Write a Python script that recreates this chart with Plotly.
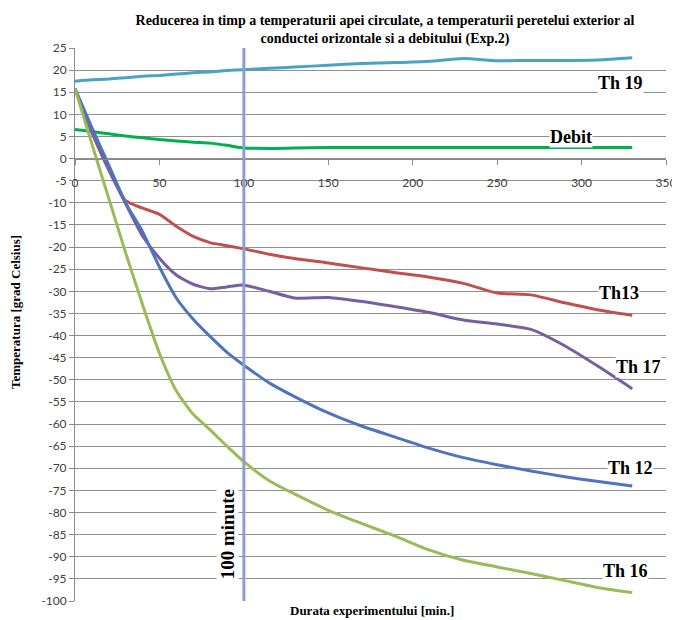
import plotly.graph_objects as go

# ---- data ----
time_min = [0, 10, 20, 30, 40, 50, 60, 70, 80, 90, 100, 115, 130, 150, 170, 190, 210, 230, 250, 270, 290, 310, 330]

th19 = [17.5, 17.8, 18.0, 18.3, 18.6, 18.8, 19.1, 19.4, 19.6, 19.9, 20.1, 20.4, 20.7, 21.1, 21.5, 21.7, 22.0, 22.6, 22.1, 22.2, 22.2, 22.3, 22.8]
debit = [6.6, 6.1, 5.6, 5.1, 4.7, 4.3, 4.0, 3.7, 3.5, 3.0, 2.4, 2.3, 2.4, 2.5, 2.5, 2.5, 2.5, 2.5, 2.5, 2.5, 2.5, 2.5, 2.5]
th13 = [15.8, 6.0, -2.5, -9.5, -11.2, -12.6, -15.3, -17.6, -19.0, -19.7, -20.4, -21.6, -22.6, -23.6, -24.7, -25.8, -26.8, -28.2, -30.4, -30.8, -32.6, -34.2, -35.4]
th17 = [15.8, 6.0, -2.5, -10.2, -17.5, -22.5, -26.3, -28.4, -29.4, -29.0, -28.6, -30.0, -31.5, -31.4, -32.3, -33.5, -34.8, -36.5, -37.4, -38.6, -42.3, -47.0, -52.0]
th12 = [15.8, 7.0, -1.5, -10.0, -16.5, -24.5, -31.5, -36.3, -40.2, -43.8, -46.7, -50.7, -53.8, -57.5, -60.5, -63.0, -65.5, -67.6, -69.2, -70.6, -71.9, -73.0, -74.0]
th16 = [15.8, 3.3, -9.0, -21.3, -33.0, -44.0, -52.5, -57.8, -61.3, -65.0, -68.5, -72.8, -75.8, -79.5, -82.5, -85.4, -88.5, -90.8, -92.3, -93.8, -95.4, -97.0, -98.1]

series_names = ["Th 19", "Debit", "Th13", "Th 17", "Th 12", "Th 16"]
series_values = [th19, debit, th13, th17, th12, th16]
series_colors = ["#4BA3C3", "#00B050", "#C0504D", "#7460A0", "#4F74BD", "#9BBB59"]

x_ticks = [0, 50, 100, 150, 200, 250, 300, 350]
y_ticks = list(range(-100, 30, 5))

title_text = ("Reducerea in timp a temperaturii apei circulate, a temperaturii peretelui exterior al<br>"
              "conductei orizontale si a debitului (Exp.2)")
x_title = "Durata experimentului [min.]"
y_title = "Temperatura [grad Celsius]"
marker_label = "100 minute"
marker_time = 100

# label anchor positions (data coords) for series names
label_pos = {
    "Th 19": (323, 17.2),
    "Debit": (294, 4.8),
    "Th13": (322, -30.3),
    "Th 17": (334, -47.0),
    "Th 12": (329, -70.0),
    "Th 16": (326, -93.2),
}

serif = "Liberation Serif"
sans = "Lato"

# page body adds an 8px offset; lay out in screen pixels and compensate
OFF = 8
SCR_W, SCR_H = 680, 620
PL, PR, PT, PB = 75, 666, 48, 601        # plot area in screen pixels
W, H = SCR_W - OFF, SCR_H - OFF
L, T = PL - OFF, PT - OFF
R, B = SCR_W - PR, SCR_H - PB
pw, ph = PR - PL, PB - PT


def px_to_paper(x, y):
    return (x - PL) / pw, (PB - y) / ph


fig = go.Figure()
for name, vals, col in zip(series_names, series_values, series_colors):
    fig.add_trace(go.Scatter(x=time_min, y=vals, mode="lines", name=name,
                             line=dict(color=col, width=3, shape="spline", smoothing=0.6)))

fig.add_shape(type="line", xref="x", yref="y", x0=marker_time, x1=marker_time, y0=-100, y1=25,
              line=dict(color="#8C9FD0", width=3), layer="above")

for name, (lx, ly) in label_pos.items():
    fig.add_annotation(x=lx, y=ly, xref="x", yref="y", text="<b>%s</b>" % name, showarrow=False,
                       xanchor="center", yanchor="middle",
                       font=dict(family=serif, size=18, color="#000000"), bgcolor="#ffffff",
                       borderpad=0)

fig.add_annotation(x=90.4, y=-85, xref="x", yref="y", text="<b>%s</b>" % marker_label, showarrow=False,
                   xanchor="center", yanchor="middle",
                   textangle=-90, font=dict(family=serif, size=19, color="#000000"), bgcolor="#ffffff",
                   borderpad=0)

ax_, ay_ = px_to_paper(372, 610)
fig.add_annotation(x=ax_, y=ay_, xref="paper", yref="paper", text="<b>%s</b>" % x_title, showarrow=False,
                   xanchor="center", yanchor="middle",
                   font=dict(family=serif, size=13, color="#000000"))
ax_, ay_ = px_to_paper(15, 312)
fig.add_annotation(x=ax_, y=ay_, xref="paper", yref="paper", text="<b>%s</b>" % y_title, showarrow=False,
                   xanchor="center", yanchor="middle",
                   textangle=-90, font=dict(family=serif, size=13, color="#000000"))

fig.update_layout(
    width=W, height=H,
    margin=dict(l=L, r=R, t=T, b=B, pad=0, autoexpand=False),
    paper_bgcolor="#ffffff", plot_bgcolor="#ffffff",
    showlegend=False,
    title=dict(text="<b>%s</b>" % title_text, x=(385 - OFF) / W, xanchor="center",
               y=1 - (25 - OFF) / H, yanchor="middle",
               font=dict(family=serif, size=14, color="#000000")),
    xaxis=dict(range=[0, 350], tickvals=x_ticks, ticktext=[str(v) for v in x_ticks],
               showgrid=False, zeroline=False, showline=True, linecolor="#8a8a8a", linewidth=1,
               ticks="outside", ticklen=5, tickcolor="#8a8a8a", automargin=False,
               anchor="free", position=0.8, ticklabelstandoff=8, ticklabeloverflow="allow",
               tickfont=dict(family=sans, size=12, color="#404040")),
    yaxis=dict(range=[-100, 25], tickvals=y_ticks, ticktext=[str(v) for v in y_ticks],
               showgrid=True, gridcolor="#8f8f8f", gridwidth=1, zeroline=False,
               showline=True, linecolor="#8a8a8a", linewidth=1, automargin=False,
               ticks="outside", ticklen=5, tickcolor="#8a8a8a",
               tickfont=dict(family=sans, size=12, color="#404040")),
)

fig.write_html("out.html")
